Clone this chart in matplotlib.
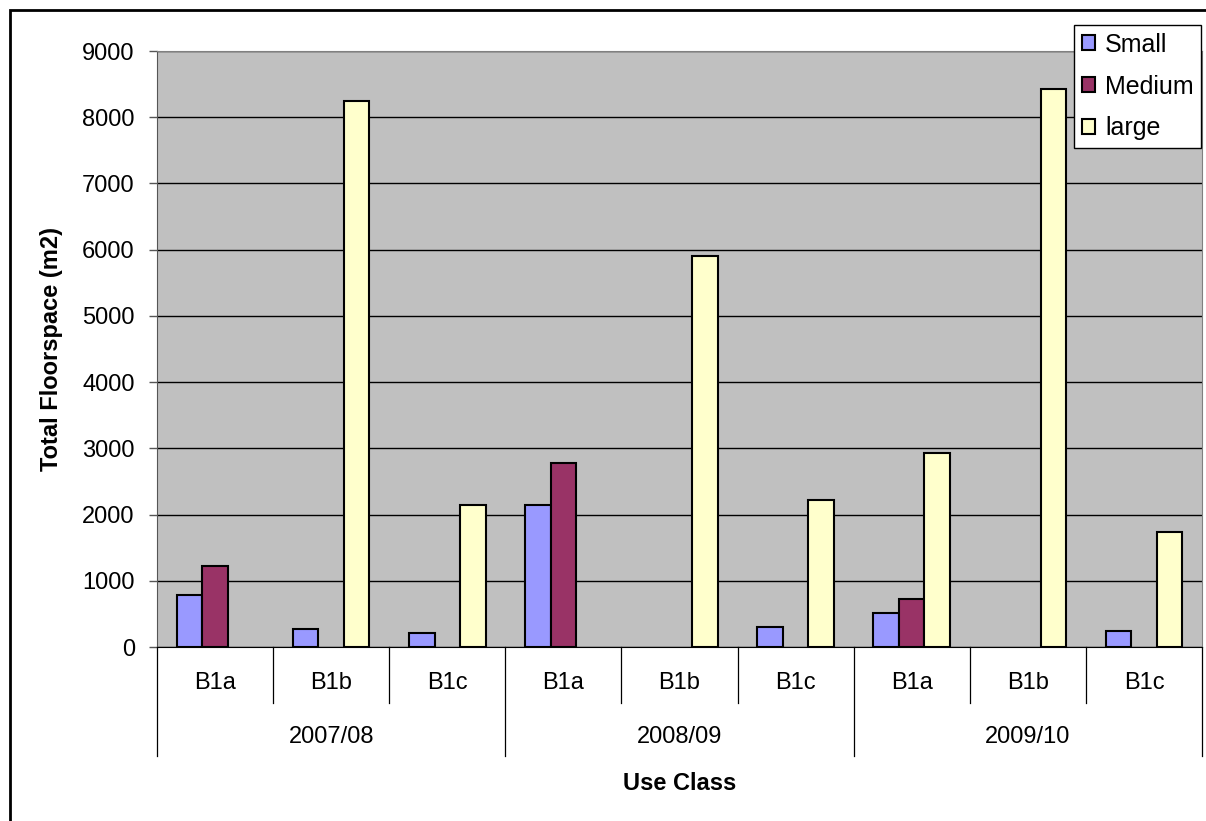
import numpy as np
import matplotlib
matplotlib.use('Agg')
import matplotlib.pyplot as plt
from matplotlib.patches import Rectangle
import matplotlib.transforms as mtransforms

plt.rcParams['font.family'] = ['Liberation Sans', 'DejaVu Sans']

years = ['2007/08', '2008/09', '2009/10']
classes = ['B1a', 'B1b', 'B1c']
small = [785, 272, 216, 2150, 0, 297, 509, 0, 246]
medium = [1225, 0, 0, 2785, 0, 0, 720, 0, 0]
large = [0, 8250, 2145, 0, 5910, 2216, 2935, 8425, 1733]
yticks = [0, 1000, 2000, 3000, 4000, 5000, 6000, 7000, 8000, 9000]

W, H = 1206, 821
fig = plt.figure(figsize=(W / 100, H / 100), dpi=100)
ax = fig.add_axes([157 / W, 1 - 647 / H, (1202 - 157) / W, (647 - 51) / H])
ax.set_facecolor('#C0C0C0')

x = np.arange(len(small))
bw = 0.22
series = [(small, -bw, '#9999FF', 'Small'), (medium, 0, '#993366', 'Medium'), (large, bw, '#FFFFCC', 'large')]
for vals, off, col, lab in series:
    vals = np.array(vals, dtype=float)
    keep = vals > 0  # Excel draws nothing for empty cells
    ax.bar(x[keep] + off, vals[keep], bw, color=col, edgecolor='black', linewidth=1.5, label=lab, zorder=3)

ax.set_xlim(-0.5, len(small) - 0.5)
ax.set_ylim(0, 9000)
ax.set_yticks(yticks)
ax.set_yticklabels([str(v) for v in yticks], fontsize=17)
ax.yaxis.grid(True, color='black', linewidth=1.0, zorder=1)
ax.tick_params(axis='y', direction='out', length=6, width=1, pad=10, color='#555555')
ax.set_xticks([])
for s in ['top', 'right']:
    ax.spines[s].set_color('#808080')
ax.spines['left'].set_color('#555555')
ax.spines['bottom'].set_color('black')

# multi-level category axis
trans = mtransforms.blended_transform_factory(ax.transData, ax.transAxes)
sub_y = (647 - 683) / 596
grp_y = (647 - 737) / 596
for i in range(len(small)):
    ax.text(i, sub_y, classes[i % 3], transform=trans, ha='center', va='center', fontsize=17)
for g, yr in enumerate(years):
    ax.text(g * 3 + 1, grp_y, yr, transform=trans, ha='center', va='center', fontsize=17)
for b in np.arange(-0.5, len(small), 1.0):
    bottom = (647 - 756) / 596 if (b + 0.5) % 3 == 0 else (647 - 703) / 596
    ax.plot([b, b], [0, bottom], transform=trans, color='black', linewidth=0.9, clip_on=False)

fig.text(0.5 * (157 + 1202) / W, 1 - 783 / H, 'Use Class', ha='center', va='center',
         fontsize=17, fontweight='bold')
fig.text(52 / W, 1 - 349 / H, 'Total Floorspace (m2)', ha='center', va='center',
         rotation=90, fontsize=17, fontweight='bold')

leg = ax.legend(loc='upper left', bbox_to_anchor=(1074 / W, 1 - 25 / H), bbox_transform=fig.transFigure,
                fontsize=18, frameon=True, fancybox=False, framealpha=1, edgecolor='black',
                handlelength=0.55, handleheight=0.55, handletextpad=0.4, labelspacing=0.72,
                borderpad=0.3, borderaxespad=0)
leg.get_frame().set_linewidth(1.0)

fig.patches.append(Rectangle((10 / W, -0.1), 1.2, 1.1 - 10 / H, transform=fig.transFigure,
                             fill=False, edgecolor='black', linewidth=2))

fig.savefig('out.png', dpi=100)
